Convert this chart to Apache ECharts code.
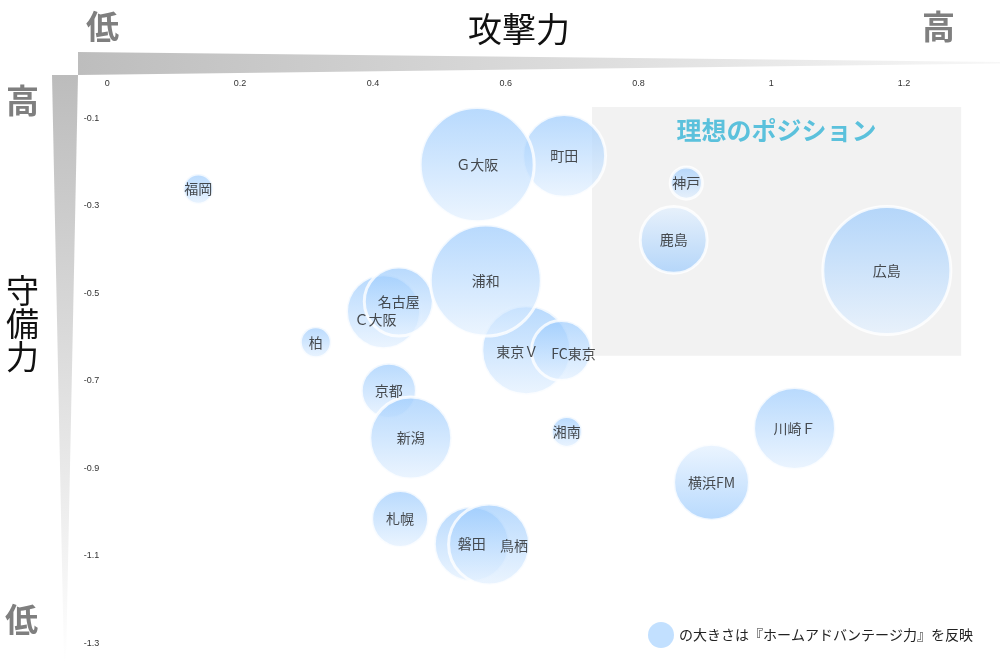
<!DOCTYPE html>
<html>
<head>
<meta charset="utf-8">
<script src="https://cdn.jsdelivr.net/npm/echarts@6/dist/echarts.min.js"></script>
<style>
	html, body {margin: 0; padding: 0; background: #fff;}
	#chart {width: 1000px; height: 662px;}
</style>
</head>
<body>
<div id="chart"></div>
<script>
	// チーム別：攻撃力(x)・守備力(y)・ホームアドバンテージ力(バブルの大きさ)
	var teams = ['福岡', '町田', 'Ｇ大阪', '神戸', '鹿島', '広島', 'Ｃ大阪', '名古屋', '柏', '東京Ｖ',
		'浦和', 'FC東京', '京都', '新潟', '湘南', '川崎Ｆ', '横浜FM', '札幌', '磐田', '鳥栖'];
	var attack = [0.137, 0.688, 0.557, 0.872, 0.853, 1.174, 0.416, 0.439, 0.314, 0.631,
		0.570, 0.684, 0.424, 0.457, 0.692, 1.035, 0.910, 0.441, 0.549, 0.575];
	var defense = [-0.262, -0.186, -0.206, -0.248, -0.378, -0.448, -0.542, -0.519, -0.612, -0.630,
		-0.471, -0.631, -0.723, -0.831, -0.817, -0.809, -0.932, -1.016, -1.073, -1.074];
	var homeAdv = [0.023, 0.172, 0.325, 0.026, 0.112, 0.410, 0.137, 0.119, 0.024, 0.198,
		0.308, 0.090, 0.076, 0.168, 0.024, 0.168, 0.144, 0.081, 0.141, 0.164];

	// 理想のポジション（攻撃力・守備力の範囲）
	var idealZone = [[0.730, -0.074], [1.286, -0.643]];

	var xTicks = {min: 0, max: 1.3, interval: 0.2};
	var yTicks = {min: -1.3, max: 0, interval: 0.2};

	var font = '"Noto Sans CJK JP", "Noto Sans", sans-serif';

	// ラベル位置の微調整
	var labelOffset = {
		'Ｃ大阪': [-8, 8],
		'東京Ｖ': [-9, 2],
		'FC東京': [12, 3],
		'鳥栖': [25, 1]
	};
	var flipped = ['鹿島', '横浜FM'];

	function bubbleFill(reverse) {
		var top = 'rgba(150, 200, 253, 0.85)';
		var bottom = 'rgba(228, 241, 255, 0.85)';
		return new echarts.graphic.LinearGradient(0, 0, 0, 1, [
			{offset: 0, color: reverse ? bottom : top},
			{offset: 1, color: reverse ? top : bottom}
		]);
	}

	var data = [];
	for (var i = 0; i < teams.length; i++) {
		var item = {
			name: teams[i],
			value: [attack[i], defense[i], homeAdv[i]],
			itemStyle: {color: bubbleFill(flipped.indexOf(teams[i]) >= 0)}
		};
		if (labelOffset[teams[i]]) {
			item.label = {offset: labelOffset[teams[i]]};
		}
		data.push(item);
	}

	var chart = echarts.init(document.getElementById('chart'));
	chart.setOption({
		animation: false,
		textStyle: {fontFamily: font},
		grid: {
			left: 107.3,
			right: 29.5,
			top: 74.5,
			bottom: 18.7,
			outerBoundsMode: 'none'
		},
		xAxis: {
			type: 'value',
			position: 'top',
			min: xTicks.min,
			max: xTicks.max,
			interval: xTicks.interval,
			axisLine: {show: false},
			axisTick: {show: false},
			splitLine: {show: false},
			axisLabel: {
				inside: true,
				margin: 5,
				showMaxLabel: false,
				fontSize: 9,
				color: '#333',
				fontFamily: 'Liberation Sans, Arial, sans-serif'
			}
		},
		yAxis: {
			type: 'value',
			min: yTicks.min,
			max: yTicks.max,
			interval: yTicks.interval,
			axisLine: {show: false},
			axisTick: {show: false},
			splitLine: {show: false},
			axisLabel: {
				margin: 8,
				showMaxLabel: false,
				fontSize: 9,
				color: '#333',
				fontFamily: 'Liberation Sans, Arial, sans-serif'
			}
		},
		legend: {
			left: 643,
			top: 617,
			icon: 'circle',
			itemWidth: 26,
			itemHeight: 26,
			itemStyle: {color: '#b3d8ff', borderWidth: 0},
			textStyle: {fontSize: 14, color: '#222', fontFamily: font},
			data: ['の大きさは『ホームアドバンテージ力』を反映']
		},
		series: [
			{
				name: 'の大きさは『ホームアドバンテージ力』を反映',
				type: 'scatter',
				symbolSize: function (val) {
					return Math.sqrt(val[2]) * 200;
				},
				itemStyle: {
					borderColor: '#fff',
					borderWidth: 3
				},
				label: {
					show: true,
					position: 'inside',
					formatter: '{b}',
					fontSize: 14,
					color: '#222',
					fontFamily: font
				},
				emphasis: {disabled: true},
				markArea: {
					silent: true,
					itemStyle: {color: '#f2f2f2'},
					label: {
						show: true,
						position: 'insideTop',
						distance: 11,
						fontSize: 25,
						fontWeight: 'bold',
						color: '#5bc1dc',
						fontFamily: font
					},
					data: [[
						{name: '理想のポジション', coord: idealZone[0]},
						{coord: idealZone[1]}
					]]
				},
				data: data
			}
		],
		graphic: [
			{
				type: 'polygon',
				silent: true,
				shape: {points: [[78, 52], [78, 75], [1000, 63.5], [1000, 62]]},
				style: {
					fill: new echarts.graphic.LinearGradient(0, 0, 1, 0, [
						{offset: 0, color: '#bdbdbd'},
						{offset: 1, color: '#f7f7f7'}
					])
				}
			},
			{
				type: 'polygon',
				silent: true,
				shape: {points: [[52, 75], [78, 75], [66, 662], [64, 662]]},
				style: {
					fill: new echarts.graphic.LinearGradient(0, 0, 0, 1, [
						{offset: 0, color: '#bcbcbc'},
						{offset: 1, color: '#ffffff'}
					])
				}
			},
			{
				type: 'text', left: 86, top: 10,
				style: {text: '低', font: 'bold 33px ' + font, fill: '#7f7f7f'}
			},
			{
				type: 'text', left: 468, top: 12,
				style: {text: '攻撃力', font: '34px ' + font, fill: '#111'}
			},
			{
				type: 'text', left: 922, top: 10,
				style: {text: '高', font: 'bold 33px ' + font, fill: '#7f7f7f'}
			},
			{
				type: 'text', left: 6, top: 84,
				style: {text: '高', font: 'bold 33px ' + font, fill: '#7f7f7f'}
			},
			{
				type: 'text', left: 6, top: 274,
				style: {text: '守\n備\n力', font: '33px ' + font, lineHeight: 33, fill: '#111'}
			},
			{
				type: 'text', left: 5, top: 603,
				style: {text: '低', font: 'bold 33px ' + font, fill: '#7f7f7f'}
			}
		]
	});
</script>
</body>
</html>
